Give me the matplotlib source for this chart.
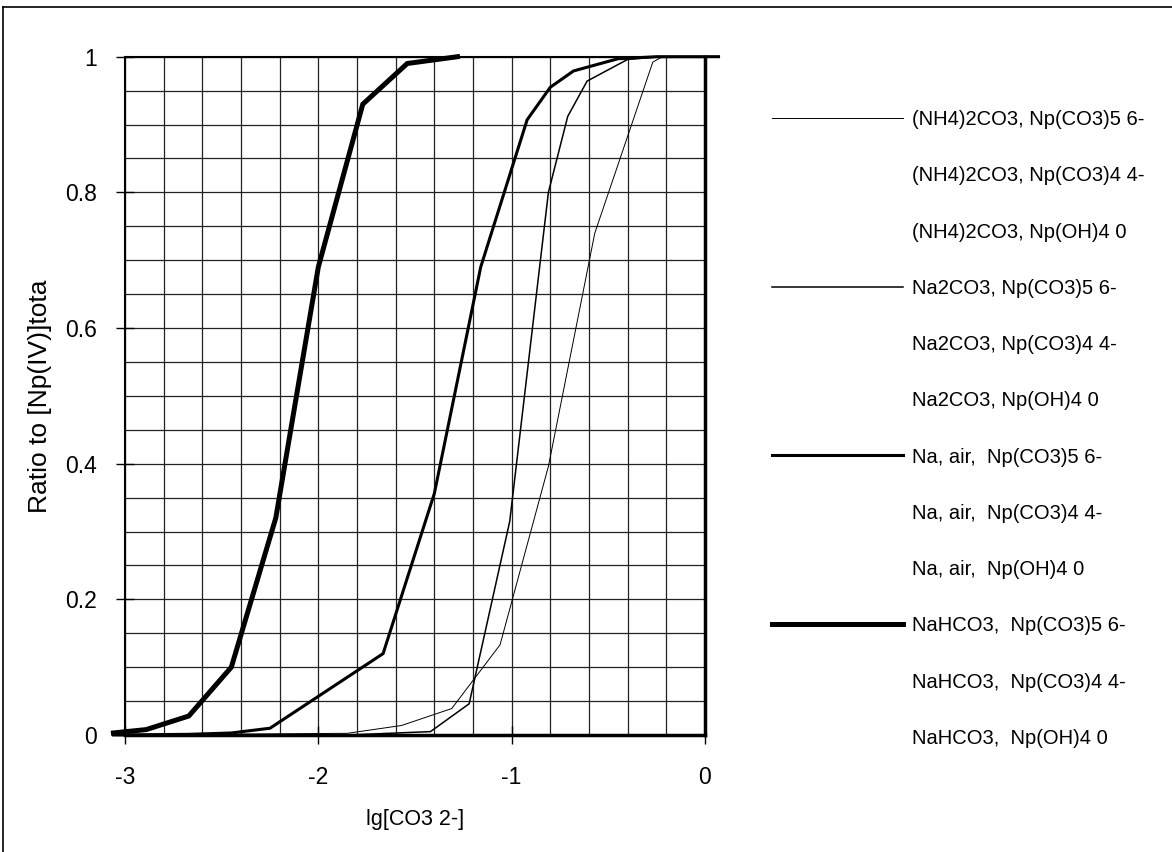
import numpy as np
import matplotlib
matplotlib.use("Agg")
import matplotlib.pyplot as plt
from matplotlib.lines import Line2D

plt.rcParams['font.family'] = ['Liberation Sans', 'DejaVu Sans']
plt.rcParams['axes.unicode_minus'] = False

# (NH4)2CO3, Np(CO3)5 6-
nh4_x = [-3.06, -1.85, -1.57, -1.31, -1.06, -0.81, -0.57, -0.27, -0.22, 0.07]
nh4_y = [0.0, 0.0025, 0.014, 0.039, 0.133, 0.396, 0.74, 0.992, 1.0, 1.0]

# Na2CO3, Np(CO3)5 6-
na2_x = [-3.06, -1.85, -1.42, -1.22, -1.01, -0.81, -0.71, -0.61, -0.40, -0.23, 0.07]
na2_y = [0.0, 0.0, 0.005, 0.046, 0.315, 0.80, 0.912, 0.964, 0.996, 1.0, 1.0]

# Na, air, Np(CO3)5 6-
air_x = [-3.06, -2.67, -2.45, -2.25, -1.665, -1.40, -1.16, -0.92, -0.80, -0.68, -0.45, -0.25, 0.07]
air_y = [0.0, 0.001, 0.003, 0.01, 0.12, 0.356, 0.69, 0.907, 0.955, 0.979, 0.997, 1.0, 1.0]

# NaHCO3, Np(CO3)5 6-
hco3_x = [-3.06, -2.89, -2.67, -2.45, -2.22, -2.0, -1.77, -1.54, -1.28]
hco3_y = [0.003, 0.008, 0.028, 0.10, 0.32, 0.69, 0.93, 0.99, 1.0]

labels = [
    "(NH4)2CO3, Np(CO3)5 6-", "(NH4)2CO3, Np(CO3)4 4-", "(NH4)2CO3, Np(OH)4 0",
    "Na2CO3, Np(CO3)5 6-", "Na2CO3, Np(CO3)4 4-", "Na2CO3, Np(OH)4 0",
    "Na, air,  Np(CO3)5 6-", "Na, air,  Np(CO3)4 4-", "Na, air,  Np(OH)4 0",
    "NaHCO3,  Np(CO3)5 6-", "NaHCO3,  Np(CO3)4 4-", "NaHCO3,  Np(OH)4 0",
]

fig = plt.figure(figsize=(11.72, 8.52), dpi=100)
ax = fig.add_axes([125 / 1172, 1 - 735 / 852, 580 / 1172, 678.3 / 852])

series = [(nh4_x, nh4_y, 0.7), (na2_x, na2_y, 1.1), (air_x, air_y, 2.2), (hco3_x, hco3_y, 3.6)]
handles = []
for xs, ys, lw in series:
    ax.plot(xs, ys, color='black', lw=lw, clip_on=False, zorder=3, solid_joinstyle='miter')
    handles.append(Line2D([], [], color='black', lw=lw))
    # the other two species of each medium have no visible line
    handles.append(Line2D([], [], linestyle='None'))
    handles.append(Line2D([], [], linestyle='None'))

ax.set_xlim(-3, 0)
ax.set_ylim(0, 1)
ax.set_xticks([-3, -2, -1, 0])
ax.set_xticks(np.arange(-3, 0.01, 0.2), minor=True)
ax.set_yticks([0, 0.2, 0.4, 0.6, 0.8, 1])
ax.set_yticklabels(["0", "0.2", "0.4", "0.6", "0.8", "1"])
ax.set_yticks(np.arange(0, 1.001, 0.05), minor=True)
ax.grid(which='both', color='#222222', lw=0.9)
ax.set_axisbelow(True)
ax.tick_params(which='minor', length=0)
ax.tick_params(which='major', direction='inout', length=13, width=1, labelsize=16.5, colors='black')
ax.tick_params(axis='x', pad=16)
ax.tick_params(axis='y', pad=14)

for side, lw in [('left', 1.5), ('top', 1.5), ('right', 2.5), ('bottom', 2.5)]:
    ax.spines[side].set_linewidth(lw)
    ax.spines[side].set_color('black')

ax.set_xlabel("lg[CO3 2-]", fontsize=15.5, labelpad=14)
ax.set_ylabel("Ratio to [Np(IV)]tota", fontsize=19, labelpad=9)

fig.legend(handles, labels, loc='upper left', bbox_to_anchor=(772 / 1172, 1 - 110 / 852),
           frameon=False, fontsize=14.5, handlelength=6.5, handletextpad=0.45,
           labelspacing=1.85, borderpad=0, borderaxespad=0)

fig.add_artist(Line2D([3 / 1172, 3 / 1172], [0, 1 - 7 / 852], color='black', lw=1.2))
fig.add_artist(Line2D([3 / 1172, 1], [1 - 7 / 852, 1 - 7 / 852], color='black', lw=1.2))

fig.savefig("out.png", dpi=100)
